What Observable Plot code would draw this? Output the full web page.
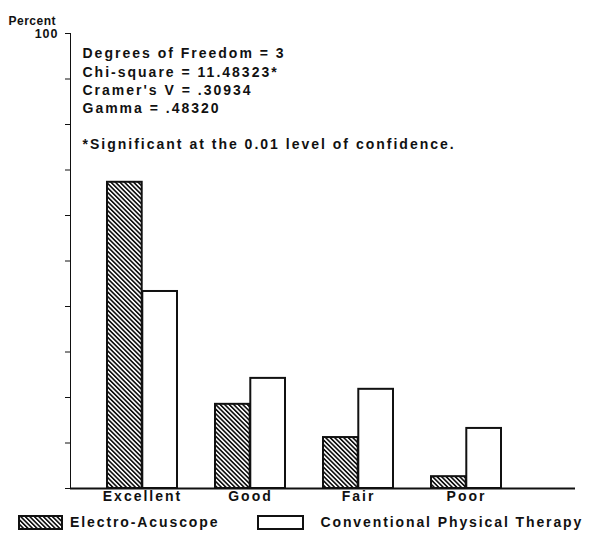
<!DOCTYPE html>
<html>
<head>
<meta charset="utf-8">
<script src="https://cdn.jsdelivr.net/npm/d3@7"></script>
<script src="https://cdn.jsdelivr.net/npm/@observablehq/plot@0.6"></script>
<style>
  body { margin: 0; background: #fff; }
  #chart svg { display: block; }
  .legend { display: flex; align-items: center; height: 28px; font-family: "Liberation Sans", Arial, sans-serif; font-weight: bold; font-size: 14px; letter-spacing: 1.9px; color: #111; }
  .sw { display: inline-block; box-sizing: border-box; border: 2px solid #111; height: 15px; }
</style>
</head>
<body>
<svg width="0" height="0" style="position:absolute">
  <defs>
    <pattern id="hatch" patternUnits="userSpaceOnUse" width="3.2" height="3.2" patternTransform="rotate(-45)">
      <rect width="3.2" height="3.2" fill="white"></rect>
      <line x1="0.8" y1="-1" x2="0.8" y2="5" stroke="#111" stroke-width="1.7"></line>
    </pattern>
  </defs>
</svg>
<div id="chart"></div>
<div class="legend" id="legend"></div>
<script>
const categories = ["Excellent", "Good", "Fair", "Poor"];
const series = ["Electro-Acuscope", "Conventional Physical Therapy"];
const electroValues = [67.3, 18.5, 11.2, 2.6];
const conventionalValues = [43.3, 24.2, 21.8, 13.2];
const yTicks = [0, 10, 20, 30, 40, 50, 60, 70, 80, 90, 100];
const statsLines = [
  "Degrees of Freedom = 3",
  "Chi-square = 11.48323*",
  "Cramer's V = .30934",
  "Gamma = .48320",
  "",
  "*Significant at the 0.01 level of confidence."
];

const data = [];
categories.forEach((c, i) => {
  data.push({category: c, series: series[0], value: electroValues[i]});
  data.push({category: c, series: series[1], value: conventionalValues[i]});
});

const W = 595, H = 508, mL = 70, mR = 20, mT = 33, mB = 20;
const pIn = 0.35, pOut = 0.5;
const step = (W - mL - mR) / (categories.length - pIn + 2 * pOut);
const half = step * (1 - pIn) / 2;

const plot = Plot.plot({
  width: W, height: H,
  marginLeft: mL, marginRight: mR, marginTop: mT, marginBottom: mB,
  style: {fontFamily: "Liberation Sans, Arial, sans-serif", fontWeight: "bold", fontSize: "14px", color: "#111", background: "white"},
  x: {domain: categories, paddingInner: pIn, paddingOuter: pOut, align: 0.33, tickSize: 0, tickPadding: 3, label: null},
  y: {domain: [0, 100], ticks: yTicks, tickSize: 5, tickPadding: 7, tickFormat: d => d === 100 ? "100" : "", label: null, line: true},
  marks: [
    Plot.barY(data.filter(d => d.series === series[0]), {x: "category", y: "value", fill: "url(#hatch)", stroke: "#111", strokeWidth: 2, insetRight: half}),
    Plot.barY(data.filter(d => d.series === series[1]), {x: "category", y: "value", fill: "white", stroke: "#111", strokeWidth: 2, insetLeft: half}),
    Plot.ruleY([0], {stroke: "#111", strokeWidth: 2}),
    Plot.text([statsLines.join("\n")], {frameAnchor: "top-left", textAnchor: "start", lineAnchor: "top", dx: 12, dy: 12, lineHeight: 1.3, fontSize: 14, fontWeight: "bold", fill: "#111"}),
    Plot.text(["Percent"], {frameAnchor: "top-left", textAnchor: "start", dx: -62, dy: -17, fontSize: 12, fontWeight: "bold", fill: "#111"})
  ]
});
plot.querySelectorAll("text").forEach(t => t.style.letterSpacing = "2px");
// y tick label "100" smaller, "Percent" tighter
plot.querySelectorAll("[aria-label='y-axis tick label'] text").forEach(t => { t.style.fontSize = "12.5px"; t.style.letterSpacing = "1px"; });
plot.querySelectorAll("text").forEach(t => { if (t.textContent === "Percent") t.style.letterSpacing = "0.5px"; });
document.getElementById("chart").appendChild(plot);

const legend = document.getElementById("legend");
legend.innerHTML =
  `<span class="sw hs" style="width:45px;margin-left:18px;border:none;"><svg width="45" height="15" style="display:block"><rect x="1" y="1" width="43" height="13" fill="url(#hatch)" stroke="#111" stroke-width="2"></rect></svg></span>` +
  `<span style="margin-left:7px">${series[0]}</span>` +
  `<span class="sw" style="width:47px;margin-left:38px;background:white;"></span>` +
  `<span style="margin-left:16px">${series[1]}</span>`;
</script>
</body>
</html>
